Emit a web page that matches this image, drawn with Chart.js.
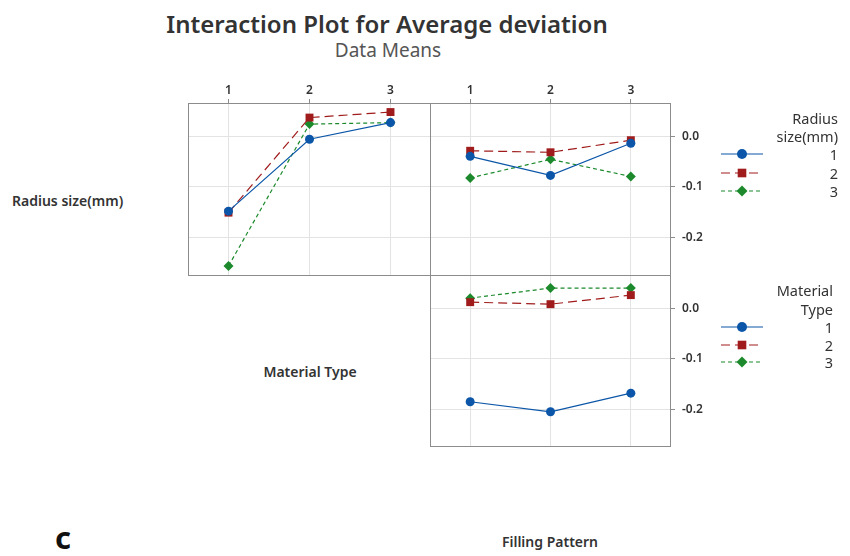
<!DOCTYPE html>
<html>
<head>
<meta charset="utf-8">
<script src="https://cdn.jsdelivr.net/npm/chart.js@4.4.1/dist/chart.umd.min.js"></script>
<style>
body { margin: 0; background: #fff; width: 850px; height: 556px; position: relative; overflow: hidden; font-family: "Noto Sans", sans-serif; color: #333; }
.t { position: absolute; white-space: nowrap; line-height: 1; }
canvas { position: absolute; }
</style>
</head>
<body>
<div class="t" style="left:387px;top:24px;transform:translate(-50%,-50%);font-size:24px;font-weight:600;color:#333">Interaction Plot for Average deviation</div>
<div class="t" style="left:388px;top:50px;transform:translate(-50%,-50%);font-size:19px;color:#555">Data Means</div>
<div class="t" style="left:12px;top:201px;transform:translateY(-50%);font-size:14px;font-weight:600">Radius size(mm)</div>
<div class="t" style="left:310px;top:372px;transform:translate(-50%,-50%);font-size:14px;font-weight:600">Material Type</div>
<div class="t" style="left:550px;top:542px;transform:translate(-50%,-50%);font-size:14px;font-weight:600">Filling Pattern</div>
<div class="t" style="left:55px;top:537px;transform:translateY(-50%);font-size:31px;font-weight:700;color:#111">c</div>

<canvas id="tl" width="243" height="196" style="left:188px;top:80px"></canvas>
<canvas id="tr" width="420" height="196" style="left:430px;top:80px"></canvas>
<canvas id="br" width="420" height="172" style="left:430px;top:275px"></canvas>

<script>
const levels = ['1', '2', '3'];
const yTicks = [0.0, -0.1, -0.2];

// top left: x = Material Type, lines = Radius size(mm)
const matRadius1 = [-0.148, -0.005, 0.028];
const matRadius2 = [-0.151, 0.038, 0.049];
const matRadius3 = [-0.257, 0.025, 0.028];

// top right: x = Filling Pattern, lines = Radius size(mm)
const fillRadius1 = [-0.039, -0.077, -0.013];
const fillRadius2 = [-0.028, -0.031, -0.007];
const fillRadius3 = [-0.082, -0.045, -0.079];

// bottom right: x = Filling Pattern, lines = Material Type
const fillMat1 = [-0.185, -0.205, -0.168];
const fillMat2 = [0.013, 0.009, 0.027];
const fillMat3 = [0.021, 0.041, 0.041];

const styles = [
    { color: '#0b56a8', dash: [], pointStyle: 'circle', radius: 4.5 },
    { color: '#a01c1c', dash: [9, 5], pointStyle: 'rect', radius: 5.6 },
    { color: '#1c8a2c', dash: [4, 3], pointStyle: 'rectRot', radius: 5 }
];

const gridColor = '#e3e3e3';
const frameColor = '#8c8c8c';
const tickFont = { family: '"Noto Sans"', size: 12, weight: '600' };

const framePlugin = {
    id: 'frame',
    beforeDatasetsDraw(chart) {
        const { ctx, chartArea: a } = chart;
        ctx.save();
        ctx.strokeStyle = frameColor;
        ctx.lineWidth = 1;
        ctx.strokeRect(a.left + 0.5, a.top + 0.5, a.width - 1, a.height - 1);
        ctx.restore();
    }
};

function legendPlugin(titleLines, right, yTitle, yItems) {
    return {
        id: 'legendBox',
        afterDraw(chart) {
            const ctx = chart.ctx;
            ctx.save();
            ctx.font = '14.5px "Noto Sans"';
            ctx.fillStyle = '#333';
            ctx.textAlign = 'right';
            ctx.textBaseline = 'middle';
            titleLines.forEach((t, i) => ctx.fillText(t, right, yTitle[i]));
            levels.forEach((lv, i) => {
                const s = styles[i];
                const y = yItems[i];
                ctx.fillText(lv, right, y + 2);
                ctx.strokeStyle = s.color;
                ctx.lineWidth = 1.2;
                ctx.setLineDash(s.dash);
                ctx.beginPath();
                ctx.moveTo(291, y);
                ctx.lineTo(333, y);
                ctx.stroke();
                ctx.setLineDash([]);
                ctx.fillStyle = s.color;
                Chart.helpers.drawPoint(ctx, { pointStyle: s.pointStyle, radius: s.radius + 0.5, rotation: 0, borderWidth: 0 }, 312, y);
                ctx.fillStyle = '#333';
            });
            ctx.restore();
        }
    };
}

function makeDatasets(series) {
    return series.map((vals, i) => ({
        label: levels[i],
        data: vals,
        borderColor: styles[i].color,
        backgroundColor: styles[i].color,
        borderWidth: 1.2,
        borderDash: styles[i].dash,
        pointStyle: styles[i].pointStyle,
        pointRadius: styles[i].radius,
        pointBorderWidth: 0,
        tension: 0,
        clip: false
    }));
}

function panel(id, series, cfg) {
    new Chart(document.getElementById(id), {
        type: 'line',
        data: { labels: levels, datasets: makeDatasets(series) },
        options: {
            responsive: false,
            animation: false,
            devicePixelRatio: 1,
            layout: { padding: 0, autoPadding: false },
            plugins: { legend: { display: false }, tooltip: { enabled: false } },
            scales: {
                x: {
                    type: 'category',
                    position: 'top',
                    offset: true,
                    ticks: { display: cfg.showX, padding: 1, color: '#333', font: tickFont, maxRotation: 0 },
                    grid: { color: gridColor, tickColor: frameColor, tickLength: 4, drawTicks: cfg.showX, offset: false },
                    border: { display: false },
                    afterFit: s => { s.height = cfg.xHeight; s.paddingLeft = 0; s.paddingRight = 0; }
                },
                y: {
                    position: cfg.yPos,
                    min: cfg.yMin,
                    max: cfg.yMax,
                    afterBuildTicks: s => { s.ticks = yTicks.map(v => ({ value: v })); },
                    ticks: { display: cfg.showY, padding: 7, color: '#333', font: tickFont, callback: v => v.toFixed(1) },
                    grid: { color: gridColor, tickColor: frameColor, tickLength: 4, drawTicks: cfg.showY },
                    border: { display: false },
                    afterFit: s => { s.width = cfg.yWidth; s.paddingTop = 0; s.paddingBottom = 0; }
                }
            }
        },
        plugins: [framePlugin].concat(cfg.legend ? [cfg.legend] : [])
    });
}

panel('tl', [matRadius1, matRadius2, matRadius3], {
    showX: true, xHeight: 23, yPos: 'left', showY: false, yWidth: 0, yMin: -0.277, yMax: 0.067
});

panel('tr', [fillRadius1, fillRadius2, fillRadius3], {
    showX: true, xHeight: 23, yPos: 'right', showY: true, yWidth: 179, yMin: -0.277, yMax: 0.067,
    legend: legendPlugin(['Radius', 'size(mm)'], 408, [40, 58], [74, 93, 111])
});

panel('br', [fillMat1, fillMat2, fillMat3], {
    showX: false, xHeight: 0, yPos: 'right', showY: true, yWidth: 179, yMin: -0.275, yMax: 0.067,
    legend: legendPlugin(['Material', 'Type'], 403, [17, 36], [52, 70, 87])
});
</script>
</body>
</html>
